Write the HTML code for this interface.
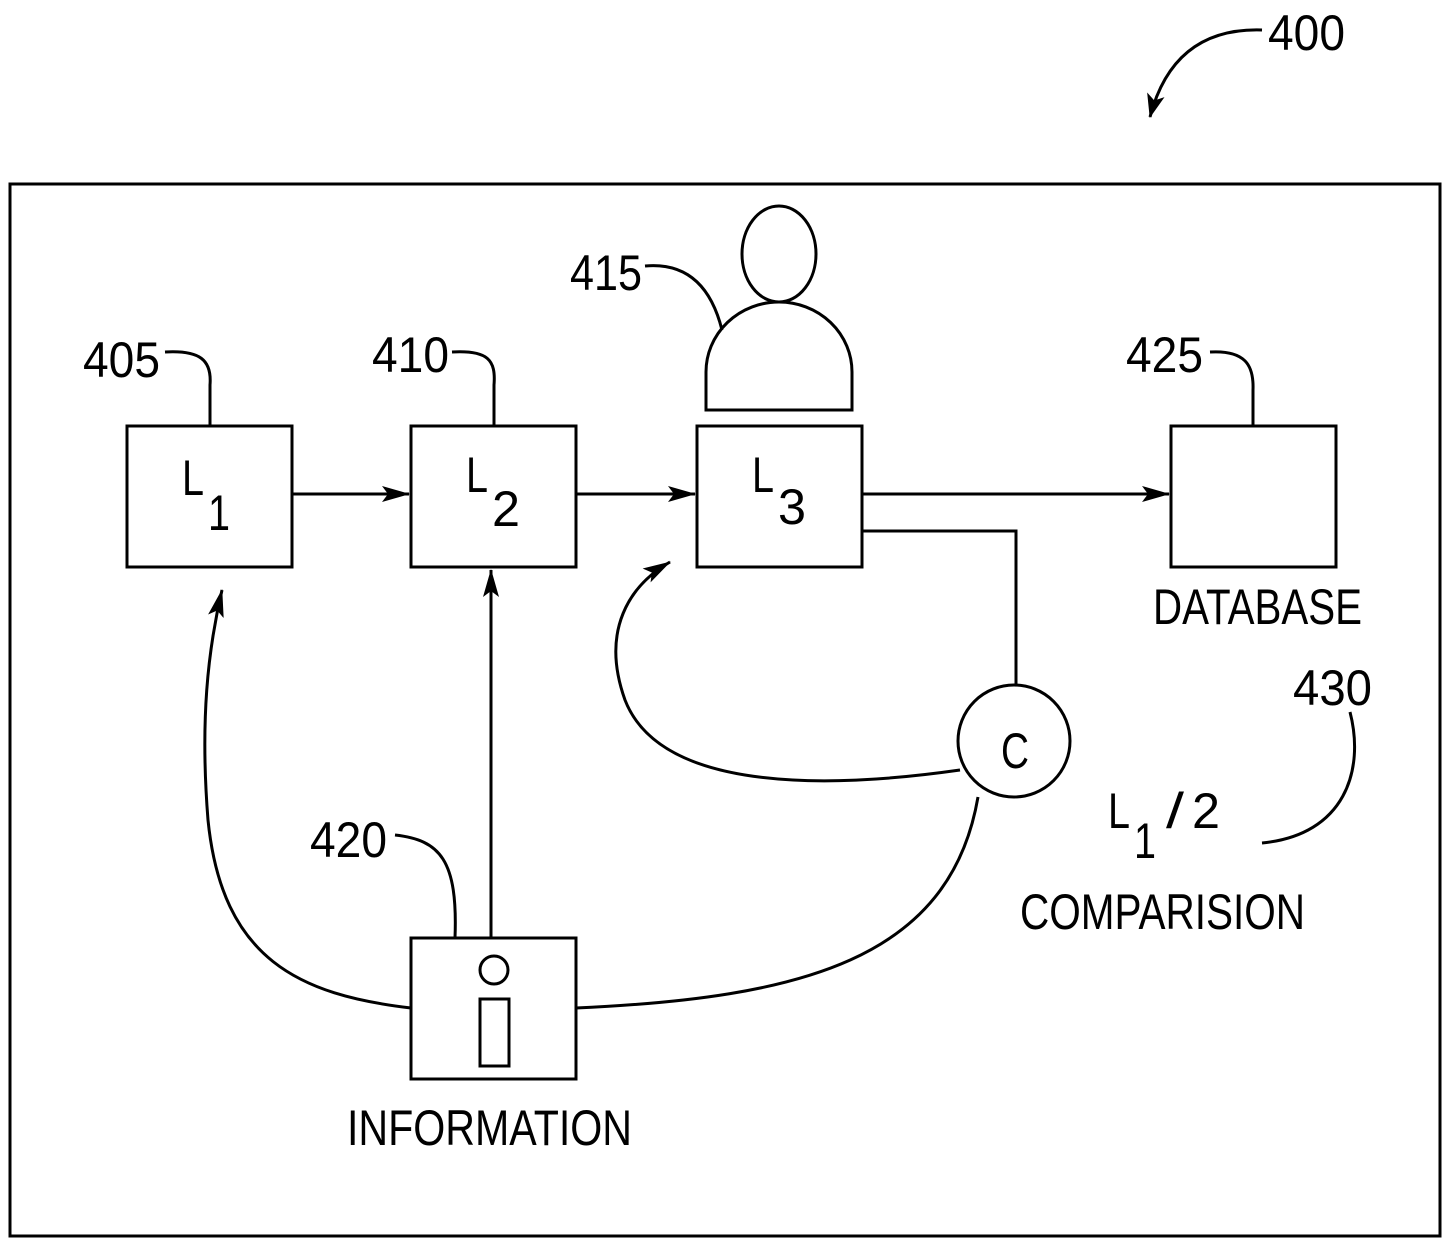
<!DOCTYPE html>
<html><head><meta charset="utf-8"><style>
html,body{margin:0;padding:0;background:#fff;}
svg{display:block;}
text{font-family:"Liberation Sans",sans-serif;fill:#000;}
</style></head><body>
<svg width="1450" height="1244" viewBox="0 0 1450 1244" xmlns="http://www.w3.org/2000/svg">
<defs>
<marker id="a" markerWidth="24" markerHeight="18" refX="23" refY="9" orient="auto" markerUnits="userSpaceOnUse">
<path d="M0,0 L24,9 L0,18 L6,9 Z" fill="#000"/>
</marker>
<marker id="b" markerWidth="28" markerHeight="16" refX="27" refY="8" orient="auto" markerUnits="userSpaceOnUse">
<path d="M0,0 L28,8 L0,16 L6,8 Z" fill="#000"/>
</marker>
</defs>
<g fill="none" stroke="#000" stroke-width="3">
<rect x="10" y="184" width="1430" height="1052"/>
<rect x="127" y="426" width="165" height="141"/>
<rect x="411" y="426" width="165" height="141"/>
<rect x="697" y="426" width="165" height="141"/>
<rect x="1171" y="426" width="165" height="141"/>
<rect x="411" y="938" width="165" height="141"/>
<ellipse cx="779" cy="254" rx="37" ry="48"/>
<path d="M706 410 L706 372 A73 70 0 0 1 852 372 L852 410 Z"/>
<circle cx="1014" cy="741" r="56"/>
<circle cx="494" cy="970" r="14"/>
<rect x="480" y="999" width="29" height="67"/>
<line x1="292" y1="494" x2="409" y2="494" marker-end="url(#b)"/>
<line x1="576" y1="494" x2="695" y2="494" marker-end="url(#b)"/>
<line x1="862" y1="494" x2="1169" y2="494" marker-end="url(#b)"/>
<path d="M862 531 L1016 531 L1016 685"/>
<line x1="491" y1="938" x2="491" y2="570" marker-end="url(#b)"/>
<path d="M960 770 C 820 790, 660 790, 625 700 C 600 630, 630 585, 670 562" marker-end="url(#b)"/>
<path d="M411 1008 C 300 995, 222 960, 208 820 C 200 720, 208 650, 222 590" marker-end="url(#b)"/>
<path d="M576 1008 C 800 998, 950 960, 978 797"/>
<path d="M165 352 C 200 350, 212 360, 210 385 L210 426"/>
<path d="M452 352 C 488 350, 496 360, 494 385 L494 426"/>
<path d="M645 266 C 690 262, 712 290, 722 330"/>
<path d="M1210 352 C 1245 350, 1254 365, 1253 390 L1253 426"/>
<path d="M395 835 C 440 840, 458 860, 455 938"/>
<path d="M1262 30 C 1200 28, 1165 60, 1150 117" marker-end="url(#a)"/>
<path d="M1350 712 C 1365 770, 1345 835, 1262 843"/>
</g>
<g font-size="50">
<text x="1268" y="50" textLength="77" lengthAdjust="spacingAndGlyphs">400</text>
<text x="83" y="377" textLength="77" lengthAdjust="spacingAndGlyphs">405</text>
<text x="372" y="372" textLength="77" lengthAdjust="spacingAndGlyphs">410</text>
<text x="570" y="290" textLength="72" lengthAdjust="spacingAndGlyphs">415</text>
<text x="1126" y="372" textLength="77" lengthAdjust="spacingAndGlyphs">425</text>
<text x="310" y="857" textLength="77" lengthAdjust="spacingAndGlyphs">420</text>
<text x="1293" y="705" textLength="79" lengthAdjust="spacingAndGlyphs">430</text>
<text x="1153" y="624" textLength="209" lengthAdjust="spacingAndGlyphs">DATABASE</text>
<text x="1020" y="929" textLength="285" lengthAdjust="spacingAndGlyphs">COMPARISION</text>
<text x="347" y="1145" textLength="285" lengthAdjust="spacingAndGlyphs">INFORMATION</text>
<text x="182" y="495" textLength="22" lengthAdjust="spacingAndGlyphs">L</text>
<text x="208" y="530" textLength="22" lengthAdjust="spacingAndGlyphs">1</text>
<text x="466" y="492" textLength="22" lengthAdjust="spacingAndGlyphs">L</text>
<text x="492" y="526" textLength="28" lengthAdjust="spacingAndGlyphs">2</text>
<text x="752" y="492" textLength="22" lengthAdjust="spacingAndGlyphs">L</text>
<text x="778" y="524" textLength="28" lengthAdjust="spacingAndGlyphs">3</text>
<text x="1001" y="768" textLength="28" lengthAdjust="spacingAndGlyphs">C</text>
<text x="1108" y="828" textLength="22" lengthAdjust="spacingAndGlyphs">L</text>
<text x="1134" y="858" textLength="22" lengthAdjust="spacingAndGlyphs">1</text>
<text x="1166" y="828" textLength="18" lengthAdjust="spacingAndGlyphs">/</text>
<text x="1192" y="828" textLength="28" lengthAdjust="spacingAndGlyphs">2</text>
</g>
</svg>
</body></html>
